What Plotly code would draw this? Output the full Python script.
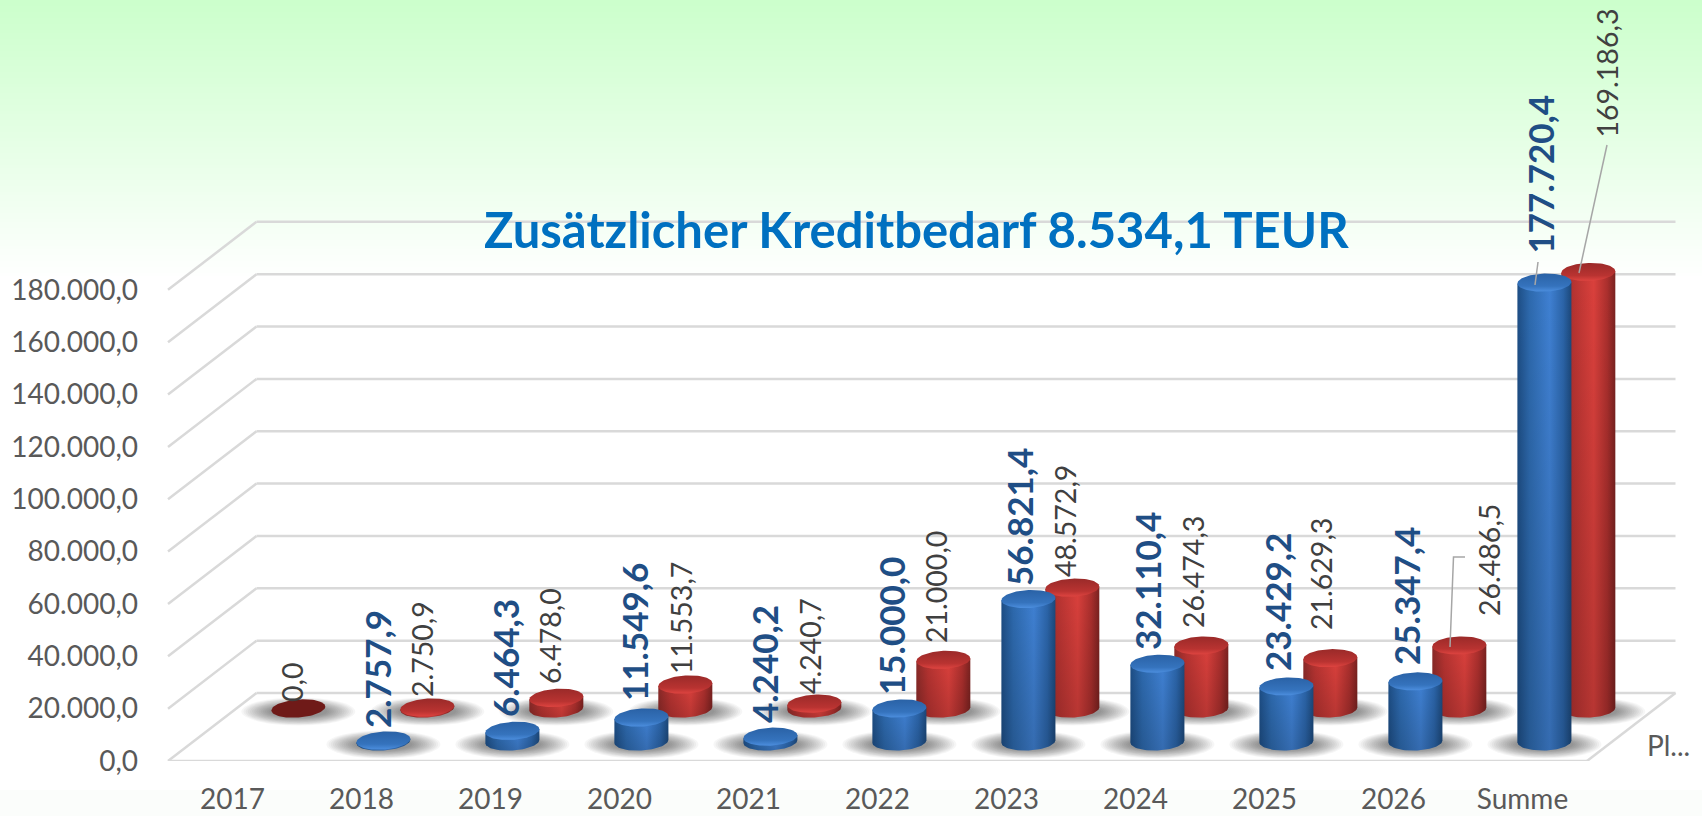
import numpy as np
import plotly.graph_objects as go

# ---------- data ----------
categories = ["2017", "2018", "2019", "2020", "2021", "2022", "2023", "2024", "2025", "2026", "Summe"]
plan_values = [None, 2757.9, 6464.3, 11549.6, 4240.2, 15000.0, 56821.4, 32110.4, 23429.2, 25347.4, 177720.4]
ist_values = [0.0, 2750.9, 6478.0, 11553.7, 4240.7, 21000.0, 48572.9, 26474.3, 21629.3, 26486.5, 169186.3]
plan_labels = [None, "2.757,9", "6.464,3", "11.549,6", "4.240,2", "15.000,0", "56.821,4", "32.110,4", "23.429,2", "25.347,4", "177.720,4"]
ist_labels = ["0,0", "2.750,9", "6.478,0", "11.553,7", "4.240,7", "21.000,0", "48.572,9", "26.474,3", "21.629,3", "26.486,5", "169.186,3"]
y_ticks = [0, 20000, 40000, 60000, 80000, 100000, 120000, 140000, 160000, 180000]
y_tick_labels = ["0,0", "20.000,0", "40.000,0", "60.000,0", "80.000,0", "100.000,0", "120.000,0", "140.000,0", "160.000,0", "180.000,0"]
title_text = "Zusätzlicher Kreditbedarf 8.534,1 TEUR"
depth_label = "Pl..."

# ---------- layout geometry ----------
W, H = 1702, 816
ML, MB = 142, 55
FRONT_Y = 761
X0, DX = 232.5, 129.0       # pixel of first category, pixels per category
K = 52.35 / 20000           # pixels per value unit
FONT = "Lato"
GREY = "#595959"


def xd(px):
    return (px - X0) / DX


def yd(px):
    return (FRONT_Y - px) / K


xr = [xd(ML), xd(W)]
yr = [0, FRONT_Y / K]
RX = 27 / DX
RY = 9 / K
DEPTH_X = 88.5 / DX
DEPTH_V = 68 / K

blue_style = dict(
    body=[[0, "#1d4d84"], [.22, "#2d69ad"], [.6, "#3f80d2"], [.85, "#2b64a8"], [1, "#1c487a"]],
    top=[[0, "#2a62a6"], [.7, "#3573bd"], [1, "#4c8ede"]],
    depth=0.287, lift=-2.4e3, shift=-3.5 / DX)
red_style = dict(
    body=[[0, "#8a2a28"], [.22, "#b63331"], [.6, "#da403c"], [.85, "#ab2f2d"], [1, "#7a2220"]],
    top=[[0, "#9a2a29"], [.7, "#b93331"], [1, "#de4440"]],
    depth=0.772, lift=-2.4e3, shift=-2.5 / DX)

shapes = []
# background gradient
pp = lambda px: 1 - px / FRONT_Y
xp0, xp1 = -ML / (W - ML), 1
for s in range(0, 276, 3):
    f = s / 276
    c = f"rgb({int(204 + 51 * f)},255,{int(204 + 51 * f)})"
    shapes.append(dict(type="rect", xref="paper", yref="paper", x0=xp0, x1=xp1, y0=pp(s), y1=pp(s + 3),
                       fillcolor=c, line_width=0, layer="below"))
shapes.append(dict(type="rect", xref="paper", yref="paper", x0=xp0, x1=xp1, y0=pp(790), y1=pp(816),
                   fillcolor="#fbfdfb", line_width=0, layer="below"))


def line(x0, y0, x1, y1):
    shapes.append(dict(type="line", xref="x", yref="y", x0=x0, y0=y0, x1=x1, y1=y1,
                       line=dict(color="#d9d9d9", width=2.5), layer="below"))


# walls and floor
xL, xR = xd(168), xd(1587)
for t in y_ticks:
    line(xL, t, xL + DEPTH_X, t + DEPTH_V)
    line(xL + DEPTH_X, t + DEPTH_V, xR + DEPTH_X, t + DEPTH_V)
line(xL, 0, xR, 0)
line(xR, 0, xR + DEPTH_X, DEPTH_V)


# soft floor shadows
def shadow(cx, base):
    n = 14
    for j in range(n):
        f = 1 - j / n
        rx = (27 + 30 * f) / DX
        ry = (5 + 9 * f) / K
        sy = base - 3.0 / K
        shapes.append(dict(type="circle", xref="x", yref="y", x0=cx - rx, x1=cx + rx, y0=sy - ry, y1=sy + ry,
                           fillcolor="rgba(0,0,0,0.034)", line_width=0, layer="below"))


traces = []
theta = np.linspace(0, np.pi, 41)


def cylinder(i, v, st, dark=False):
    cx = i + st["depth"] * DEPTH_X + st["shift"]
    base = st["depth"] * DEPTH_V
    top = max(base, v + base + st["lift"])
    shadow(cx, base)
    sl = (0.07 - 0.04 * i / 10) / K        # value units per pixel across the disc
    xa = cx + RX * np.cos(theta)
    ya = base - RY * np.sin(theta) + (xa - cx) * DX * sl
    bx = np.r_[xa, xa[-1], xa[0], xa[0]]
    by = np.r_[ya, top - sl * 27, top + sl * 27, ya[0]]
    hover = f"{categories[i]}: {v}"
    if not dark:
        traces.append(go.Scatter(x=bx, y=by, mode="lines", fill="toself", line=dict(width=0),
                                 fillgradient=dict(type="horizontal", colorscale=st["body"]),
                                 hoverinfo="skip", showlegend=False))
        traces.append(go.Scatter(x=bx, y=by, mode="lines", fill="toself", line=dict(width=0),
                                 fillgradient=dict(type="vertical",
                                                   colorscale=[[0, "rgba(0,0,0,0.16)"], [1, "rgba(0,0,0,0)"]]),
                                 hoverinfo="skip", showlegend=False))
    t2 = np.linspace(0, 2 * np.pi, 81)
    ex = cx + RX * np.cos(t2)
    ey = top + RY * np.sin(t2) + (ex - cx) * DX * sl
    if dark:
        traces.append(go.Scatter(x=ex, y=ey, mode="lines", fill="toself", line=dict(width=0),
                                 fillcolor="#6f1a18", text=hover, hoverinfo="text", showlegend=False))
    else:
        traces.append(go.Scatter(x=ex, y=ey, mode="lines", fill="toself", line=dict(width=0),
                                 fillgradient=dict(type="vertical",
                                                   colorscale=[[1 - p, col] for p, col in reversed(st["top"])]),
                                 text=hover, hoverinfo="text", showlegend=False))


for i, v in enumerate(ist_values):
    cylinder(i, v, red_style, dark=(v == 0))
for i, v in enumerate(plan_values):
    if v is not None:
        cylinder(i, v, blue_style)

# leader lines
leaders = [[(1535, 285), (1538, 262)], [(1579, 273), (1607, 145)], [(1450, 647), (1453.5, 557), (1465, 557)]]
for pts in leaders:
    traces.append(go.Scatter(x=[xd(p[0]) for p in pts], y=[yd(p[1]) for p in pts], mode="lines",
                             line=dict(color="#a6a6a6", width=1.5), hoverinfo="skip", showlegend=False))

# label placement: (centre x px, bottom y px)
plan_pos = [None, (377, 730), (505, 719), (634, 703), (764, 725), (891, 697), (1019, 588), (1147, 652), (1277, 673), (1406, 667), (1539, 256)]
ist_pos = [(292, 704), (422, 699), (550, 686), (681, 676), (810, 696), (936, 645), (1065, 579), (1193, 630), (1321, 632), (1489, 618), (1606, 140)]

annotations = []
for txt, pos in zip(plan_labels, plan_pos):
    if txt:
        annotations.append(dict(x=xd(pos[0]), y=yd(pos[1]), text=txt, textangle=-90, showarrow=False,
                                xanchor="center", yanchor="bottom",
                                font=dict(family=FONT, size=35, color="#1f4e85", weight="bold")))
for txt, pos in zip(ist_labels, ist_pos):
    annotations.append(dict(x=xd(pos[0]), y=yd(pos[1]), text=txt, textangle=-90, showarrow=False,
                            xanchor="center", yanchor="bottom",
                            font=dict(family=FONT, size=28.5, color="#404040")))
annotations.append(dict(x=xd(916), y=yd(229), text=title_text, showarrow=False, xanchor="center", yanchor="middle",
                        font=dict(family=FONT, size=49, color="#0070c0", weight="bold")))
annotations.append(dict(x=xd(1645), y=yd(745), text=depth_label, showarrow=False, xanchor="left", yanchor="middle",
                        font=dict(family=FONT, size=28, color=GREY)))

fig = go.Figure(traces)
fig.update_layout(
    width=W, height=H, margin=dict(l=ML, r=0, t=0, b=MB, pad=0, autoexpand=False),
    paper_bgcolor="white", plot_bgcolor="rgba(0,0,0,0)", showlegend=False,
    shapes=shapes, annotations=annotations,
    xaxis=dict(range=xr, tickmode="array", tickvals=list(range(len(categories))), ticktext=categories,
               showgrid=False, zeroline=False, showline=False, ticks="", ticklabelstandoff=19, automargin=False,
               tickfont=dict(family=FONT, size=28, color=GREY), fixedrange=True),
    yaxis=dict(range=yr, tickmode="array", tickvals=y_ticks, ticktext=y_tick_labels,
               showgrid=False, zeroline=False, showline=False, ticks="", ticklabelstandoff=3, automargin=False,
               tickfont=dict(family=FONT, size=28, color=GREY), fixedrange=True),
)
fig.write_html("out.html", config={"displayModeBar": False},
               post_script="document.body.style.margin='0';document.documentElement.style.overflow='hidden';")
